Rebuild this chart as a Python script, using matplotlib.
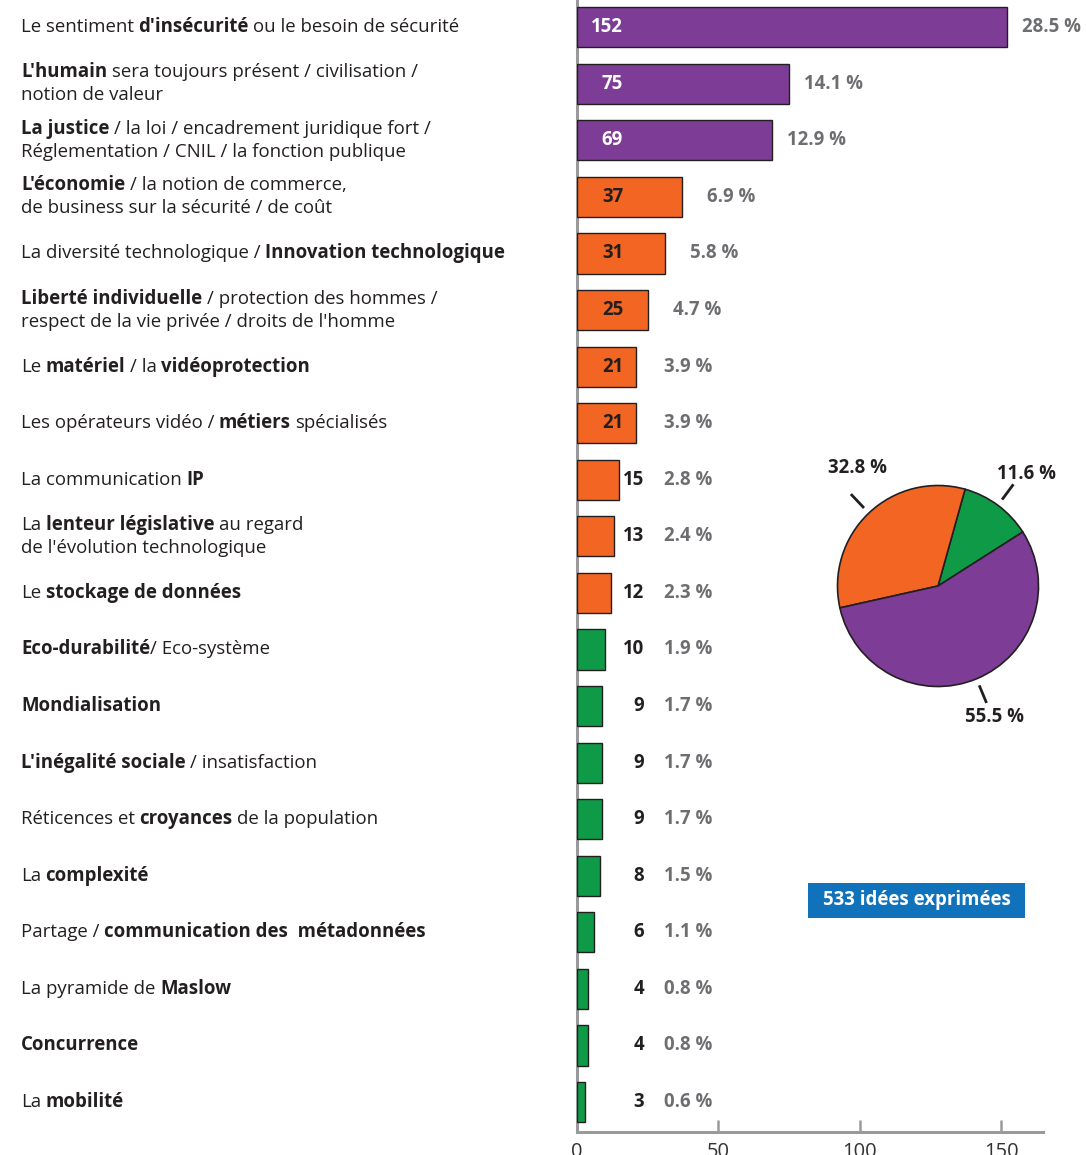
"""
Recreation of the bar chart of ideas expressed (533 ideas), with group pie inset.
"""

import matplotlib
matplotlib.use("Agg")
import matplotlib.pyplot as plt
from matplotlib.patches import Rectangle
import numpy as np

plt.rcParams["font.family"] = ["Open Sans", "DejaVu Sans"]

# =====================================================================
# 1. DATA
# =====================================================================
# Each label is a list of lines; each line is a list of (text, is_bold)
labels = [
    [[("Le sentiment ", False), ("d'insécurité", True), (" ou le besoin de sécurité", False)]],
    [[("L'humain", True), (" sera toujours présent / civilisation /", False)],
     [("notion de valeur", False)]],
    [[("La justice", True), (" / la loi / encadrement juridique fort /", False)],
     [("Réglementation / CNIL / la fonction publique", False)]],
    [[("L'économie", True), (" / la notion de commerce,", False)],
     [("de business sur la sécurité / de coût", False)]],
    [[("La diversité technologique / ", False), ("Innovation technologique", True)]],
    [[("Liberté individuelle", True), (" / protection des hommes /", False)],
     [("respect de la vie privée / droits de l'homme", False)]],
    [[("Le ", False), ("matériel", True), (" / la ", False), ("vidéoprotection", True)]],
    [[("Les opérateurs vidéo / ", False), ("métiers", True), (" spécialisés", False)]],
    [[("La communication ", False), ("IP", True)]],
    [[("La ", False), ("lenteur législative", True), (" au regard", False)],
     [("de l'évolution technologique", False)]],
    [[("Le ", False), ("stockage de données", True)]],
    [[("Eco-durabilité", True), ("/ Eco-système", False)]],
    [[("Mondialisation", True)]],
    [[("L'inégalité sociale", True), (" / insatisfaction", False)]],
    [[("Réticences et ", False), ("croyances", True), (" de la population", False)]],
    [[("La ", False), ("complexité", True)]],
    [[("Partage / ", False), ("communication des  métadonnées", True)]],
    [[("La pyramide de ", False), ("Maslow", True)]],
    [[("Concurrence", True)]],
    [[("La ", False), ("mobilité", True)]],
]

counts = [152, 75, 69, 37, 31, 25, 21, 21, 15, 13, 12, 10, 9, 9, 9, 8, 6, 4, 4, 3]
percents = ["28.5", "14.1", "12.9", "6.9", "5.8", "4.7", "3.9", "3.9", "2.8", "2.4",
            "2.3", "1.9", "1.7", "1.7", "1.7", "1.5", "1.1", "0.8", "0.8", "0.6"]
groups = ["purple"] * 3 + ["orange"] * 8 + ["green"] * 9

pie_groups = ["green", "orange", "purple"]
pie_labels = ["11.6 %", "32.8 %", "55.5 %"]
total_text = "533 idées exprimées"

colors = {"purple": "#7d3c96", "orange": "#f26522", "green": "#0f9a47"}
GRAY_AXIS = "#9a9a9c"
GRAY_PCT = "#6d6e71"
DARK = "#231f20"
FS = 13.4

# =====================================================================
# 2. BAR CHART
# =====================================================================
W, H = 1086, 1155
fig = plt.figure(figsize=(W / 100, H / 100), dpi=100)
ax = fig.add_axes([577 / W, 23 / H, (1043 - 577) / W, (H - 23) / H])

y = np.arange(len(counts))
ax.barh(y, counts, height=0.71, color=[colors[g] for g in groups],
        edgecolor=DARK, linewidth=1.0, zorder=3)

ax.set_xlim(0, 164.7)
ax.set_ylim(len(counts) - 1 + 0.53, -0.48)

for side in ["top", "right"]:
    ax.spines[side].set_visible(False)
for side in ["left", "bottom"]:
    ax.spines[side].set_color(GRAY_AXIS)
    ax.spines[side].set_linewidth(2.2)
ax.set_yticks([])
ax.set_xticks([0, 50, 100, 150])
ax.tick_params(axis="x", direction="in", length=9, width=1.8, color=GRAY_AXIS,
               labelsize=14.5, labelcolor="#333333", pad=7)

for i, (v, p, g) in enumerate(zip(counts, percents, groups)):
    if v >= 20:
        ax.text(16.3, i, str(v), ha="right", va="center", fontsize=FS,
                fontweight="bold", color="white" if g == "purple" else DARK, zorder=4)
    else:
        ax.text(23.7, i, str(v), ha="right", va="center", fontsize=FS,
                fontweight="bold", color=DARK, zorder=4)
    ax.text(max(v + 26, 47.7), i, f"{p} %", ha="right", va="center", fontsize=FS,
            fontweight="bold", color=GRAY_PCT, zorder=4)

# =====================================================================
# 3. MIXED BOLD / REGULAR LABELS ON THE LEFT
# =====================================================================
SPACE_PX = 4.5
LINE_OFF = 11.5
for i, lines in enumerate(labels):
    n = len(lines)
    for k, line in enumerate(lines):
        dy = 0 if n == 1 else (LINE_OFF if k == 0 else -LINE_OFF)
        prev = None
        prev_trailing = False
        for seg, bold in line:
            gap = SPACE_PX if (prev_trailing or seg.startswith(" ")) else 0
            txt = seg.strip()
            weight = "bold" if bold else "normal"
            if prev is None:
                prev = ax.annotate(txt, xy=(21 / W, i), xycoords=("figure fraction", "data"),
                                   xytext=(0, dy), textcoords="offset pixels",
                                   ha="left", va="center", fontsize=FS,
                                   fontweight=weight, color=DARK, annotation_clip=False)
            else:
                prev = ax.annotate(txt, xy=(1, 0.5), xycoords=prev,
                                   xytext=(gap, 0), textcoords="offset pixels",
                                   ha="left", va="center", fontsize=FS,
                                   fontweight=weight, color=DARK, annotation_clip=False)
            prev_trailing = seg.endswith(" ")

# =====================================================================
# 4. PIE INSET
# =====================================================================
R = 100.5
cx, cy = 938, 586
pax = fig.add_axes([(cx - R) / W, (H - cy - R) / H, 2 * R / W, 2 * R / H])
group_totals = [sum(c for c, g in zip(counts, groups) if g == pg) for pg in pie_groups]
wedges, _ = pax.pie(group_totals, colors=[colors[g] for g in pie_groups],
                    startangle=32.5, counterclock=True, radius=1,
                    wedgeprops=dict(edgecolor=DARK, linewidth=1.2))
pax.set_xlim(-1, 1)
pax.set_ylim(-1, 1)
pax.set_aspect("equal")
pax.axis("off")

label_shift = [-2, -9, 1]  # degrees, nudges the label off the wedge middle
for w, lab, sh in zip(wedges, pie_labels, label_shift):
    mid = (w.theta1 + w.theta2) / 2
    ang = np.deg2rad(mid)
    c, s = np.cos(ang), np.sin(ang)
    pax.plot([1.07 * c, 1.26 * c], [1.07 * s, 1.26 * s], color=DARK, lw=2,
             clip_on=False, solid_capstyle="butt")
    la = np.deg2rad(mid + sh)
    pax.text(1.42 * np.cos(la), 1.42 * np.sin(la), lab, ha="center", va="center",
             fontsize=FS, fontweight="bold", color=DARK, clip_on=False)

# =====================================================================
# 5. TOTAL BOX
# =====================================================================
fig.patches.append(Rectangle((808 / W, 1 - 918 / H), 217 / W, 35 / H,
                             transform=fig.transFigure, facecolor="#1172bc",
                             edgecolor="none", zorder=5))
fig.text(916.5 / W, 1 - 900.5 / H, total_text, ha="center", va="center", fontsize=FS,
         fontweight="bold", color="white", zorder=6)

fig.savefig("out.png", dpi=100)
